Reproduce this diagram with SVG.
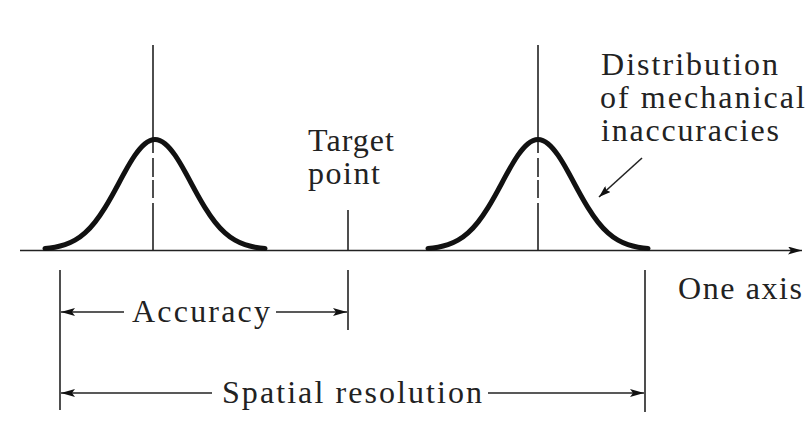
<svg xmlns="http://www.w3.org/2000/svg" width="809" height="440" viewBox="0 0 809 440">
<style>
.ln{stroke:#222;stroke-width:1.6;fill:none}
.crv{stroke:#111;stroke-width:5;fill:none;stroke-linecap:round;stroke-linejoin:round}
.t{font-family:"Liberation Serif","Times New Roman",serif;font-size:32px;fill:#222}
</style>
<defs>
<marker id="ah" viewBox="0 0 14 8" refX="14" refY="4" markerWidth="14" markerHeight="8" markerUnits="userSpaceOnUse" orient="auto">
<path d="M0,0 L14,4 L0,8 L3,4 Z" fill="#111"/>
</marker>
<marker id="ahs" viewBox="0 0 12 8" refX="12" refY="4" markerWidth="12" markerHeight="8" markerUnits="userSpaceOnUse" orient="auto">
<path d="M0,0 L12,4 L0,8 L2,4 Z" fill="#111"/>
</marker>
<path id="gauss" d="M-110,-1 C-106.67,-1.28 -103.33,-1.71 -100,-2.3 C-96.67,-2.89 -93.33,-3.69 -90,-4.8 C-86.67,-5.91 -83.33,-7.39 -80,-9.3 C-76.67,-11.21 -73.33,-13.61 -70,-16.6 C-66.67,-19.59 -63.33,-23.17 -60,-27.4 C-56.67,-31.63 -53.33,-36.51 -50,-41.9 C-46.67,-47.29 -43.33,-53.2 -40,-59.3 C-36.67,-65.4 -33.33,-71.7 -30,-77.7 C-26.67,-83.7 -23.33,-89.45 -20,-94.3 C-16.67,-99.15 -13.33,-103.08 -10,-105.8 C-6.67,-108.52 -3.33,-110 0,-110 C3.33,-110 6.67,-108.52 10,-105.8 C13.33,-103.08 16.67,-99.15 20,-94.3 C23.33,-89.45 26.67,-83.7 30,-77.7 C33.33,-71.7 36.67,-65.4 40,-59.3 C43.33,-53.2 46.67,-47.29 50,-41.9 C53.33,-36.51 56.67,-31.63 60,-27.4 C63.33,-23.17 66.67,-19.59 70,-16.6 C73.33,-13.61 76.67,-11.21 80,-9.3 C83.33,-7.39 86.67,-5.91 90,-4.8 C93.33,-3.69 96.67,-2.89 100,-2.3 C103.33,-1.71 106.67,-1.28 110,-1"/>
<path id="cline" d="M0,-205 V-97 M0,-92 V-73 M0,-70 V-52 M0,-47 V0"/>
</defs>
<rect width="809" height="440" fill="#fff"/>

<g id="axis">
<line class="ln" x1="20" y1="250.5" x2="802" y2="250.5" marker-end="url(#ah)"/>
<text class="t" x="678" y="299" textLength="124" lengthAdjust="spacing">One axis</text>
</g>

<g id="distribution-left">
<use href="#cline" class="ln" transform="translate(153,250)"/>
<use href="#gauss" class="crv" transform="translate(155,249.5)"/>
</g>

<g id="distribution-right">
<use href="#cline" class="ln" transform="translate(538,250)"/>
<use href="#gauss" class="crv" transform="translate(538,249.5)"/>
</g>

<g id="target-point">
<line class="ln" x1="348" y1="210" x2="348" y2="250"/>
<text class="t" x="308" y="151" textLength="86" lengthAdjust="spacing">Target</text>
<text class="t" x="308" y="184" textLength="72" lengthAdjust="spacing">point</text>
</g>

<g id="label-distribution">
<text class="t" x="601" y="75" textLength="177" lengthAdjust="spacing">Distribution</text>
<text class="t" x="600" y="108" textLength="205" lengthAdjust="spacing">of mechanical</text>
<text class="t" x="601" y="141" textLength="178" lengthAdjust="spacing">inaccuracies</text>
</g>

<g id="dimension-lines">
<line class="ln" x1="60" y1="270" x2="60" y2="410"/>
<line class="ln" x1="348" y1="270" x2="348" y2="330"/>
<line class="ln" x1="645" y1="270" x2="645" y2="412"/>
</g>

<g id="accuracy">
<text class="t" x="132" y="322" textLength="138" lengthAdjust="spacing">Accuracy</text>
</g>

<g id="spatial-resolution">
<text class="t" x="222" y="403" textLength="260" lengthAdjust="spacing">Spatial resolution</text>
</g>

<g id="connectors">
<line class="ln" x1="124" y1="312" x2="61" y2="312" marker-end="url(#ah)"/>
<line class="ln" x1="276" y1="312" x2="347" y2="312" marker-end="url(#ah)"/>
<line class="ln" x1="212" y1="393" x2="61" y2="393" marker-end="url(#ah)"/>
<line class="ln" x1="488" y1="393" x2="644" y2="393" marker-end="url(#ah)"/>
<line class="ln" x1="642" y1="158" x2="599" y2="197" marker-end="url(#ahs)"/>
</g>
</svg>
